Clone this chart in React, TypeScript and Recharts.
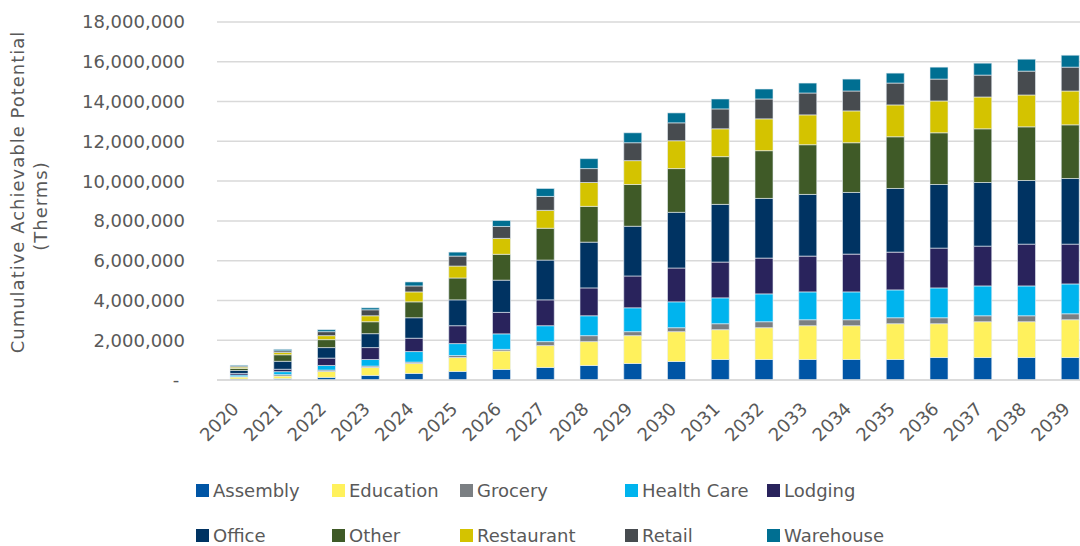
import { Bar, BarChart, CartesianGrid, XAxis, YAxis } from 'recharts';

const years = [
  '2020', '2021', '2022', '2023', '2024', '2025', '2026', '2027', '2028', '2029',
  '2030', '2031', '2032', '2033', '2034', '2035', '2036', '2037', '2038', '2039',
];

const assembly = [50000, 70000, 130000, 230000, 330000, 430000, 530000, 630000, 730000, 830000, 930000, 1030000, 1030000, 1030000, 1030000, 1030000, 1130000, 1130000, 1130000, 1130000];
const education = [100000, 130000, 300000, 400000, 500000, 700000, 930000, 1100000, 1200000, 1400000, 1500000, 1500000, 1600000, 1700000, 1700000, 1800000, 1700000, 1800000, 1800000, 1900000];
const grocery = [20000, 70000, 70000, 70000, 70000, 100000, 80000, 200000, 300000, 200000, 200000, 300000, 300000, 300000, 300000, 300000, 300000, 300000, 300000, 300000];
const healthCare = [80000, 150000, 230000, 330000, 530000, 600000, 780000, 800000, 1000000, 1200000, 1300000, 1300000, 1400000, 1400000, 1400000, 1400000, 1500000, 1500000, 1500000, 1500000];
const lodging = [80000, 120000, 370000, 600000, 670000, 900000, 1080000, 1300000, 1400000, 1600000, 1700000, 1800000, 1800000, 1800000, 1900000, 1900000, 2000000, 2000000, 2100000, 2000000];
const office = [150000, 400000, 530000, 700000, 1030000, 1300000, 1620000, 2000000, 2300000, 2500000, 2800000, 2900000, 3000000, 3100000, 3100000, 3200000, 3200000, 3200000, 3200000, 3300000];
const other = [100000, 330000, 400000, 600000, 800000, 1100000, 1300000, 1600000, 1800000, 2100000, 2200000, 2400000, 2400000, 2500000, 2500000, 2600000, 2600000, 2700000, 2700000, 2700000];
const restaurant = [70000, 120000, 200000, 300000, 500000, 600000, 800000, 900000, 1200000, 1200000, 1400000, 1400000, 1600000, 1500000, 1600000, 1600000, 1600000, 1600000, 1600000, 1700000];
const retail = [50000, 80000, 200000, 300000, 300000, 500000, 600000, 700000, 700000, 900000, 900000, 1000000, 1000000, 1100000, 1000000, 1100000, 1100000, 1100000, 1200000, 1200000];
const warehouse = [40000, 70000, 100000, 100000, 200000, 200000, 300000, 400000, 500000, 500000, 500000, 500000, 500000, 500000, 600000, 500000, 600000, 600000, 600000, 600000];

const yTicks = [0, 2000000, 4000000, 6000000, 8000000, 10000000, 12000000, 14000000, 16000000, 18000000];

const SERIES = [
  { key: 'Assembly', values: assembly, color: '#0055A5' },
  { key: 'Education', values: education, color: '#FFF15C' },
  { key: 'Grocery', values: grocery, color: '#7B7F83' },
  { key: 'Health Care', values: healthCare, color: '#00B4EE' },
  { key: 'Lodging', values: lodging, color: '#29235C' },
  { key: 'Office', values: office, color: '#003362' },
  { key: 'Other', values: other, color: '#3F5A27' },
  { key: 'Restaurant', values: restaurant, color: '#D4C300' },
  { key: 'Retail', values: retail, color: '#474B4F' },
  { key: 'Warehouse', values: warehouse, color: '#006F92' },
];

const data = years.map((year, i) => {
  const row: Record<string, string | number> = { year };
  SERIES.forEach((s) => {
    row[s.key] = s.values[i];
  });
  return row;
});

const FONT = '"DejaVu Sans", sans-serif';
const TEXT = '#595959';

// Excel-ish legend: two rows, fixed columns
const LEGEND_COLS = [196, 332, 460, 625, 767];
const LEGEND_ROWS = [490, 535];

function formatTick(v: number) {
  return v === 0 ? '-\u00a0' : v.toLocaleString('en-US');
}

function YLabel() {
  return (
    <g fill={TEXT} fontFamily={FONT} fontSize={18}>
      <text
        x={17}
        y={192}
        transform="rotate(-90 17 192)"
        textAnchor="middle"
        dominantBaseline="central"
        letterSpacing={1}
      >
        Cumulative Achievable Potential
      </text>
      <text
        x={40}
        y={206}
        transform="rotate(-90 40 206)"
        textAnchor="middle"
        dominantBaseline="central"
        letterSpacing={1}
      >
        (Therms)
      </text>
    </g>
  );
}

export default function App() {
  return (
    <div
      style={{
        position: 'fixed',
        left: 0,
        top: 0,
        width: 1080,
        height: 546,
        overflow: 'hidden',
        background: '#fff',
      }}
    >
      <BarChart
        width={1092}
        height={546}
        data={data}
        margin={{ top: 22, right: 0, left: 0, bottom: 0 }}
        barSize={18}
      >
        <CartesianGrid vertical={false} stroke="#d9d9d9" strokeWidth={1.5} />
        <XAxis
          dataKey="year"
          height={166}
          interval={0}
          tickLine={false}
          axisLine={{ stroke: '#d9d9d9', strokeWidth: 1.5 }}
          angle={-45}
          textAnchor="end"
          tick={{ fontSize: 18, fill: TEXT, fontFamily: FONT }}
          tickMargin={15}
          dx={-8}
        />
        <YAxis
          width={217}
          domain={[0, 18000000]}
          ticks={yTicks}
          tickFormatter={formatTick}
          tickLine={false}
          axisLine={false}
          tickSize={0}
          tickMargin={32}
          tick={{ fontSize: 18, fill: TEXT, fontFamily: FONT }}
          label={<YLabel />}
        />
        {SERIES.map((s) => (
          <Bar
            key={s.key}
            dataKey={s.key}
            stackId="a"
            fill={s.color}
            stroke="#e8eef5"
            strokeWidth={0.6}
            isAnimationActive={false}
          />
        ))}
      </BarChart>
      {SERIES.map((s, i) => (
        <div
          key={s.key}
          style={{
            position: 'absolute',
            left: LEGEND_COLS[i % 5],
            top: LEGEND_ROWS[Math.floor(i / 5)] - 11,
            height: 22,
            display: 'flex',
            alignItems: 'center',
            fontFamily: FONT,
            fontSize: 18,
            color: TEXT,
            whiteSpace: 'nowrap',
          }}
        >
          <span style={{ width: 13, height: 13, background: s.color, marginRight: 4, display: 'inline-block' }} />
          {s.key}
        </div>
      ))}
    </div>
  );
}
